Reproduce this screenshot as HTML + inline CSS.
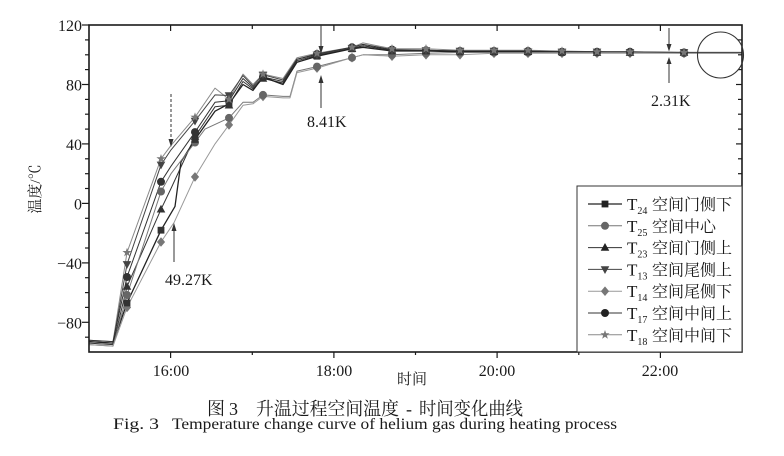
<!DOCTYPE html>
<html><head><meta charset="utf-8"><style>
html,body{margin:0;padding:0;background:#fff;}
svg{display:block;}
.num{font-family:"Liberation Serif","Times New Roman",serif;fill:#1a1a1a;}
.cjk{font-family:"Liberation Serif","Noto Serif CJK SC","Noto Sans CJK SC",serif;fill:#1a1a1a;}
</style></head><body>
<svg width="784" height="456" viewBox="0 0 784 456" xmlns="http://www.w3.org/2000/svg">
<defs>
<rect id="sq" x="-3.4" y="-3.4" width="6.8" height="6.8"/>
<circle id="ci" r="4"/>
<path id="ut" d="M0,-4.6 L4.3,3.2 L-4.3,3.2Z"/>
<path id="dt" d="M0,4.6 L4.3,-3.2 L-4.3,-3.2Z"/>
<path id="di" d="M0,-4.8 L4.1,0 L0,4.8 L-4.1,0Z"/>
<path id="st" d="M0,-4.8 L1.12,-1.55 L4.6,-1.5 L1.84,0.58 L2.84,3.9 L0,1.93 L-2.84,3.9 L-1.84,0.58 L-4.6,-1.5 L-1.12,-1.55Z"/>
</defs>
<rect width="784" height="456" fill="#fff"/>

<!-- series lines -->
<g fill="none" stroke-linejoin="round">
<polyline stroke="#8a8a8a" stroke-width="1" points="89,340.2 113,341.6 127,252.5 161,158.8 171,145.4 195,117.2 215,88.1 229,99.4 243,74.1 253,84.5 263,74.1 283,78.5 297,57.7 317,53.3 352,47.3 363,42.9 392,48.8 426,48.8 460,50.3 494,50.3 528,50.3 562,51.0 597,51.8 630,51.8 684,52.5 742,52.5"/>
<polyline stroke="#444" stroke-width="1" points="89,341.6 113,343.1 127,264.3 161,164.8 171,149.9 195,120.9 215,94.9 229,95.5 243,75.6 253,86.0 263,74.8 283,80.0 297,59.2 317,54.8 352,48.1 363,45.8 392,50.3 426,50.3 460,51.0 494,51.0 528,51.8 562,51.8 597,51.8 630,52.5 684,52.5 742,52.5"/>
<polyline stroke="#333" stroke-width="1" points="89,340.2 113,341.6 127,277.0 161,181.8 171,166.2 195,132.1 215,102.3 229,100.8 243,78.5 253,87.5 263,77.0 283,81.5 297,59.2 317,54.0 352,47.3 363,44.4 392,49.6 426,50.3 460,51.0 494,51.0 528,51.0 562,51.8 597,51.8 630,51.8 684,52.5 742,52.5"/>
<polyline stroke="#333" stroke-width="1" points="89,343.1 113,344.6 127,286.6 161,209.3 171,188.5 195,136.5 215,106.8 229,105.3 243,81.5 253,88.9 263,78.5 283,83.0 297,60.7 317,55.5 352,48.8 363,45.8 392,50.3 426,51.0 460,51.0 494,51.8 528,51.8 562,51.8 597,52.5 630,52.5 684,52.5 742,52.5"/>
<polyline stroke="#222" stroke-width="1.3" points="89,341.6 113,343.1 127,303.0 161,230.2 175,206.4 181,161.8 195,139.5 215,111.2 229,103.8 243,84.5 253,90.4 263,77.0 283,84.5 297,62.2 317,56.2 352,48.8 363,47.3 392,51.0 426,51.0 460,51.8 494,51.8 528,51.8 562,52.5 597,52.5 630,52.5 684,52.5 742,52.5"/>
<polyline stroke="#777" stroke-width="1" points="89,344.6 113,346.1 127,295.0 161,191.5 171,173.7 195,142.5 205,129.1 229,117.9 243,102.3 253,102.3 263,94.9 283,96.4 290,96.4 297,71.1 317,66.6 352,57.7 363,54.8 392,54.8 426,53.3 460,52.5 494,52.5 528,52.5 562,52.5 597,52.5 630,52.5 684,53.3 742,53.3"/>
<polyline stroke="#999" stroke-width="1" points="89,344.6 113,346.1 127,307.4 161,242.0 174,222.7 195,176.9 215,143.9 229,124.9 243,105.3 253,103.8 263,96.4 283,97.9 290,97.9 297,72.6 317,68.1 352,57.7 363,54.8 392,56.2 426,54.8 460,54.8 494,53.3 528,53.3 562,53.3 597,53.3 630,53.3 684,53.3 742,53.3"/>
</g>

<!-- markers -->
<g fill="#777">
<use href="#di" x="127" y="307.4"/><use href="#di" x="161" y="242"/><use href="#di" x="195" y="176.9"/><use href="#di" x="229" y="124.9"/><use href="#di" x="263" y="96.4"/><use href="#di" x="317" y="68.1"/><use href="#di" x="352" y="57.7"/><use href="#di" x="392" y="56.2"/><use href="#di" x="426" y="54.8"/><use href="#di" x="460" y="54.8"/><use href="#di" x="494" y="53.3"/><use href="#di" x="528" y="53.3"/><use href="#di" x="562" y="53.3"/><use href="#di" x="597" y="53.3"/><use href="#di" x="630" y="53.3"/><use href="#di" x="684" y="53.3"/>
</g>
<g fill="#666">
<use href="#ci" x="127" y="295"/><use href="#ci" x="161" y="191.5"/><use href="#ci" x="195" y="142.5"/><use href="#ci" x="229" y="117.9"/><use href="#ci" x="263" y="94.9"/><use href="#ci" x="317" y="66.6"/><use href="#ci" x="352" y="57.7"/><use href="#ci" x="392" y="54.8"/><use href="#ci" x="426" y="53.3"/><use href="#ci" x="460" y="52.5"/><use href="#ci" x="494" y="52.5"/><use href="#ci" x="528" y="52.5"/><use href="#ci" x="562" y="52.5"/><use href="#ci" x="597" y="52.5"/><use href="#ci" x="630" y="52.5"/><use href="#ci" x="684" y="53.3"/>
</g>
<g fill="#333">
<use href="#sq" x="127" y="303"/><use href="#sq" x="161" y="230.2"/><use href="#sq" x="195" y="139.5"/><use href="#sq" x="229" y="103.8"/><use href="#sq" x="263" y="77"/><use href="#sq" x="317" y="56.2"/><use href="#sq" x="352" y="48.8"/><use href="#sq" x="392" y="51"/><use href="#sq" x="426" y="51"/><use href="#sq" x="460" y="51.8"/><use href="#sq" x="494" y="51.8"/><use href="#sq" x="528" y="51.8"/><use href="#sq" x="562" y="52.5"/><use href="#sq" x="597" y="52.5"/><use href="#sq" x="630" y="52.5"/><use href="#sq" x="684" y="52.5"/>
<use href="#ut" x="127" y="286.6"/><use href="#ut" x="161" y="209.3"/><use href="#ut" x="195" y="136.5"/><use href="#ut" x="229" y="105.3"/><use href="#ut" x="263" y="78.5"/><use href="#ut" x="317" y="55.5"/><use href="#ut" x="352" y="48.8"/><use href="#ut" x="392" y="50.3"/><use href="#ut" x="426" y="51"/><use href="#ut" x="460" y="51"/><use href="#ut" x="494" y="51.8"/><use href="#ut" x="528" y="51.8"/><use href="#ut" x="562" y="51.8"/><use href="#ut" x="597" y="52.5"/><use href="#ut" x="630" y="52.5"/><use href="#ut" x="684" y="52.5"/>
<use href="#ci" x="127" y="277"/><use href="#ci" x="161" y="181.8"/><use href="#ci" x="195" y="132.1"/><use href="#ci" x="229" y="100.8"/><use href="#ci" x="263" y="77"/><use href="#ci" x="317" y="54"/><use href="#ci" x="352" y="47.3"/><use href="#ci" x="392" y="49.6"/><use href="#ci" x="426" y="50.3"/><use href="#ci" x="460" y="51"/><use href="#ci" x="494" y="51"/><use href="#ci" x="528" y="51"/><use href="#ci" x="562" y="51.8"/><use href="#ci" x="597" y="51.8"/><use href="#ci" x="630" y="51.8"/><use href="#ci" x="684" y="52.5"/>
</g>
<g fill="#444">
<use href="#dt" x="127" y="264.3"/><use href="#dt" x="161" y="164.8"/><use href="#dt" x="195" y="120.9"/><use href="#dt" x="229" y="95.5"/><use href="#dt" x="263" y="74.8"/><use href="#dt" x="317" y="54.8"/><use href="#dt" x="352" y="48.1"/><use href="#dt" x="392" y="50.3"/><use href="#dt" x="426" y="50.3"/><use href="#dt" x="460" y="51"/><use href="#dt" x="494" y="51"/><use href="#dt" x="528" y="51.8"/><use href="#dt" x="562" y="51.8"/><use href="#dt" x="597" y="51.8"/><use href="#dt" x="630" y="52.5"/><use href="#dt" x="684" y="52.5"/>
</g>
<g fill="#777">
<use href="#st" x="127" y="252.5"/><use href="#st" x="161" y="158.8"/><use href="#st" x="195" y="117.2"/><use href="#st" x="229" y="99.4"/><use href="#st" x="263" y="74.1"/><use href="#st" x="317" y="53.3"/><use href="#st" x="352" y="47.3"/><use href="#st" x="392" y="48.8"/><use href="#st" x="426" y="48.8"/><use href="#st" x="460" y="50.3"/><use href="#st" x="494" y="50.3"/><use href="#st" x="528" y="50.3"/><use href="#st" x="562" y="51"/><use href="#st" x="597" y="51.8"/><use href="#st" x="630" y="51.8"/><use href="#st" x="684" y="52.5"/>
</g>

<!-- axes frame -->
<rect x="89" y="25" width="653" height="327" fill="none" stroke="#1a1a1a" stroke-width="1.6"/>

<!-- ticks -->
<g stroke="#1a1a1a" stroke-width="1.2">
<line x1="82" y1="25" x2="89" y2="25"/><line x1="82" y1="84.5" x2="89" y2="84.5"/><line x1="82" y1="143.9" x2="89" y2="143.9"/><line x1="82" y1="203.4" x2="89" y2="203.4"/><line x1="82" y1="262.9" x2="89" y2="262.9"/><line x1="82" y1="322.3" x2="89" y2="322.3"/>
<line x1="85" y1="39.9" x2="89" y2="39.9"/><line x1="85" y1="54.8" x2="89" y2="54.8"/><line x1="85" y1="69.6" x2="89" y2="69.6"/><line x1="85" y1="99.4" x2="89" y2="99.4"/><line x1="85" y1="114.2" x2="89" y2="114.2"/><line x1="85" y1="129.1" x2="89" y2="129.1"/><line x1="85" y1="158.8" x2="89" y2="158.8"/><line x1="85" y1="173.7" x2="89" y2="173.7"/><line x1="85" y1="188.5" x2="89" y2="188.5"/><line x1="85" y1="218.3" x2="89" y2="218.3"/><line x1="85" y1="233.1" x2="89" y2="233.1"/><line x1="85" y1="248" x2="89" y2="248"/><line x1="85" y1="277.7" x2="89" y2="277.7"/><line x1="85" y1="292.6" x2="89" y2="292.6"/><line x1="85" y1="307.4" x2="89" y2="307.4"/><line x1="85" y1="337.2" x2="89" y2="337.2"/>
<line x1="736" y1="84.5" x2="742" y2="84.5"/><line x1="736" y1="143.9" x2="742" y2="143.9"/><line x1="736" y1="203.4" x2="742" y2="203.4"/><line x1="736" y1="262.9" x2="742" y2="262.9"/><line x1="736" y1="322.3" x2="742" y2="322.3"/>
<line x1="738" y1="39.9" x2="742" y2="39.9"/><line x1="738" y1="54.8" x2="742" y2="54.8"/><line x1="738" y1="69.6" x2="742" y2="69.6"/><line x1="738" y1="99.4" x2="742" y2="99.4"/><line x1="738" y1="114.2" x2="742" y2="114.2"/><line x1="738" y1="129.1" x2="742" y2="129.1"/><line x1="738" y1="158.8" x2="742" y2="158.8"/><line x1="738" y1="173.7" x2="742" y2="173.7"/><line x1="738" y1="188.5" x2="742" y2="188.5"/>
<line x1="170.6" y1="352" x2="170.6" y2="358"/><line x1="333.9" y1="352" x2="333.9" y2="358"/><line x1="497.1" y1="352" x2="497.1" y2="358"/><line x1="660.4" y1="352" x2="660.4" y2="358"/>
<line x1="252.3" y1="352" x2="252.3" y2="355"/><line x1="415.5" y1="352" x2="415.5" y2="355"/><line x1="578.8" y1="352" x2="578.8" y2="355"/>
<line x1="170.6" y1="25" x2="170.6" y2="31"/><line x1="333.9" y1="25" x2="333.9" y2="31"/><line x1="497.1" y1="25" x2="497.1" y2="31"/><line x1="660.4" y1="25" x2="660.4" y2="31"/>
<line x1="252.3" y1="25" x2="252.3" y2="29"/><line x1="415.5" y1="25" x2="415.5" y2="29"/><line x1="578.8" y1="25" x2="578.8" y2="29"/>
</g>

<!-- tick labels -->
<g class="num" font-size="16" text-anchor="end">
<text x="82" y="31">120</text><text x="82" y="90.5">80</text><text x="82" y="150">40</text><text x="82" y="209.5">0</text><text x="82" y="269">−40</text><text x="82" y="328.5">−80</text>
</g>
<g class="num" font-size="16" text-anchor="middle">
<text x="171" y="376">16:00</text><text x="334" y="376">18:00</text><text x="497" y="376">20:00</text><text x="660" y="376">22:00</text>
</g>
<text class="cjk" x="412" y="384" font-size="15" text-anchor="middle">时间</text>
<text class="cjk" font-size="15" text-anchor="middle" transform="translate(40,189) rotate(-90)">温度/℃</text>

<!-- annotations -->
<g stroke="#333" stroke-width="1" fill="#333">
<line x1="171" y1="94" x2="171" y2="140" stroke-dasharray="3,2"/>
<path d="M171,147 L168.5,139 L173.5,139Z" stroke="none"/>
<line x1="174" y1="230" x2="174" y2="262"/>
<path d="M174,223 L171.5,231 L176.5,231Z" stroke="none"/>
<line x1="321" y1="25" x2="321" y2="47"/>
<path d="M321,54 L318.5,46 L323.5,46Z" stroke="none"/>
<line x1="321" y1="82" x2="321" y2="108"/>
<path d="M321,75 L318.5,83 L323.5,83Z" stroke="none"/>
<line x1="669" y1="28" x2="669" y2="45"/>
<path d="M669,51.5 L666.5,44 L671.5,44Z" stroke="none"/>
<line x1="669" y1="63" x2="669" y2="83"/>
<path d="M669,57 L666.5,64 L671.5,64Z" stroke="none"/>
</g>
<circle cx="720.5" cy="55" r="23" fill="none" stroke="#333" stroke-width="1.1"/>
<g class="num" font-size="16">
<text x="165" y="285">49.27K</text>
<text x="307" y="127">8.41K</text>
<text x="651" y="106">2.31K</text>
</g>

<!-- legend -->
<rect x="577" y="186" width="165" height="166" fill="#fff" stroke="#333" stroke-width="1"/>
<g stroke-width="1">
<line x1="588" y1="204" x2="622" y2="204" stroke="#222" stroke-width="1.3"/>
<line x1="588" y1="225.8" x2="622" y2="225.8" stroke="#777"/>
<line x1="588" y1="247.6" x2="622" y2="247.6" stroke="#333"/>
<line x1="588" y1="269.4" x2="622" y2="269.4" stroke="#444"/>
<line x1="588" y1="291.2" x2="622" y2="291.2" stroke="#999"/>
<line x1="588" y1="313" x2="622" y2="313" stroke="#333"/>
<line x1="588" y1="334.8" x2="622" y2="334.8" stroke="#8a8a8a"/>
</g>
<use href="#sq" x="605" y="204" fill="#222"/>
<use href="#ci" x="605" y="225.8" fill="#666"/>
<use href="#ut" x="605" y="247.6" fill="#222"/>
<use href="#dt" x="605" y="269.4" fill="#444"/>
<use href="#di" x="605" y="291.2" fill="#777"/>
<use href="#ci" x="605" y="313" fill="#222"/>
<use href="#st" x="605" y="334.8" fill="#777"/>
<g class="num" font-size="17">
<text x="627" y="210">T<tspan font-size="10" dy="4">24</tspan></text>
<text x="627" y="231.8">T<tspan font-size="10" dy="4">25</tspan></text>
<text x="627" y="253.6">T<tspan font-size="10" dy="4">23</tspan></text>
<text x="627" y="275.4">T<tspan font-size="10" dy="4">13</tspan></text>
<text x="627" y="297.2">T<tspan font-size="10" dy="4">14</tspan></text>
<text x="627" y="319">T<tspan font-size="10" dy="4">17</tspan></text>
<text x="627" y="340.8">T<tspan font-size="10" dy="4">18</tspan></text>
</g>
<g class="cjk" font-size="16">
<text x="652" y="210">空间门侧下</text>
<text x="652" y="231.8">空间中心</text>
<text x="652" y="253.6">空间门侧上</text>
<text x="652" y="275.4">空间尾侧上</text>
<text x="652" y="297.2">空间尾侧下</text>
<text x="652" y="319">空间中间上</text>
<text x="652" y="340.8">空间中间下</text>
</g>

<!-- captions -->
<g class="cjk" font-size="18">
<text x="207" y="415">图</text>
<text class="num" x="229" y="415" font-size="18">3</text>
<text x="256" y="415" textLength="143" lengthAdjust="spacingAndGlyphs">升温过程空间温度</text>
<text class="num" x="406" y="415">-</text>
<text x="419" y="415" textLength="104" lengthAdjust="spacingAndGlyphs">时间变化曲线</text>
</g>
<g class="num" font-size="16">
<text x="113" y="429" textLength="46" lengthAdjust="spacingAndGlyphs">Fig. 3</text>
<text x="172" y="429" textLength="445" lengthAdjust="spacingAndGlyphs">Temperature change curve of helium gas during heating process</text>
</g>
</svg>
</body></html>
